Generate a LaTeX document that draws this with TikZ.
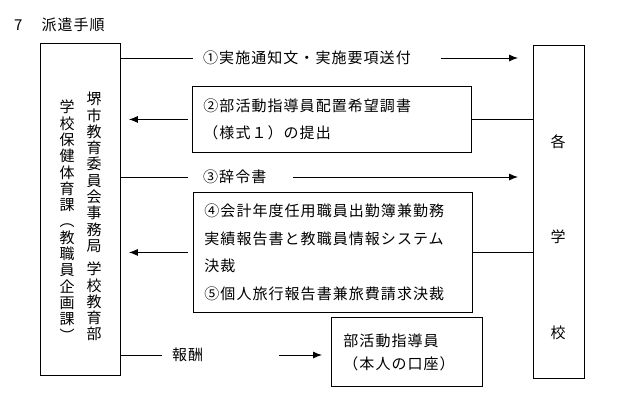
\documentclass[tikz,border=0pt]{standalone}
\usepackage{fontspec}
\usetikzlibrary{arrows.meta}
\newfontfamily\jpfont[LetterSpace=7]{Noto Sans CJK JP}
\newfontfamily\jpvert{Noto Sans CJK JP}

\begin{document}
\begin{tikzpicture}[x=1pt, y=-1pt,
    framebox/.style={draw, line width=0.9pt, inner sep=0pt, anchor=north west},
    notebox/.style={draw, line width=0.9pt, anchor=north west, align=left,
                    inner xsep=11pt, inner ysep=0pt},
    vtext/.style={anchor=north, align=center, inner sep=0pt,
                  font=\jpvert\fontsize{15}{16.3}\selectfont},
    steplabel/.style={anchor=west, inner xsep=10pt, inner ysep=0pt,
                      font=\jpfont\fontsize{15}{16}\selectfont},
    arrow/.style={-{Latex[length=9pt,width=7pt]}, line width=0.9pt},
    link/.style={line width=0.9pt}
]
    \useasboundingbox (0,0) rectangle (632,401);

    \node[anchor=west, inner sep=0pt, font=\jpfont\fontsize{15}{16}\selectfont]
        (title) at (14,25) {7\hspace{19pt}派遣手順};

    % sending side
    \node[framebox, minimum width=80, minimum height=332] (office) at (40,43) {};
    \node[vtext] (office col1) at (94,92)
        {堺\\市\\教\\育\\委\\員\\会\\事\\務\\局\\[7pt]学\\校\\教\\育\\部};
    \node[vtext] (office col2) at (67,100)
        {学\\校\\保\\健\\体\\育\\課\\︵\\教\\職\\員\\企\\画\\課\\︶};

    % receiving side
    \node[framebox, minimum width=51, minimum height=333] (school) at (533,45) {};
    \node[font=\jpvert\fontsize{15}{16}\selectfont] (school a) at (558,142) {各};
    \node[font=\jpvert\fontsize{15}{16}\selectfont] (school b) at (558,237) {学};
    \node[font=\jpvert\fontsize{15}{16}\selectfont] (school c) at (558,333) {校};

    % 1
    \node[steplabel] (notice) at (193,58) {①実施通知文・実施要項送付};
    \draw[link] (office.east |- notice.west) -- (notice.west);
    \draw[arrow, shorten <=20pt, shorten >=15pt] (notice.east) -- (school.west |- notice.east);

    % 2
    \node[notebox, text width=257, minimum height=66,
          font=\jpfont\fontsize{15}{27}\selectfont] (request) at (192,86)
        {②部活動指導員配置希望調書\\（様式１）の提出};
    \draw[link] (request.east) -- (school.west |- request.east);
    \draw[arrow, shorten <=4pt, shorten >=8pt] (request.west) -- (office.east |- request.west);

    % 3
    \node[steplabel] (appoint) at (193,177) {③辞令書};
    \draw[link, shorten >=5pt] (office.east |- appoint.west) -- (appoint.west);
    \draw[arrow, shorten <=16pt, shorten >=15pt] (appoint.east) -- (school.west |- appoint.east);

    % 4, 5
    \node[notebox, text width=257, minimum height=120,
          font=\jpfont\fontsize{15}{27.7}\selectfont] (report) at (193,192)
        {④会計年度任用職員出勤簿兼勤務\\実績報告書と教職員情報システム\\決裁\\⑤個人旅行報告書兼旅費請求決裁};
    \draw[link] (report.east) -- (school.west |- report.east);
    \draw[arrow, shorten <=5pt, shorten >=8pt] (report.west) -- (office.east |- report.west);

    % pay
    \node[notebox, text width=127, minimum height=69, inner xsep=12pt,
          font=\jpfont\fontsize{15}{23}\selectfont] (coach) at (331,317)
        {部活動指導員\\（本人の口座）};
    \node[steplabel] (pay) at (162,355) {報酬};
    \draw[link] (office.east |- pay.west) -- (pay.west);
    \draw[arrow, shorten <=66pt, shorten >=9pt] (pay.east) -- (coach.west |- pay.east);
\end{tikzpicture}
\end{document}
